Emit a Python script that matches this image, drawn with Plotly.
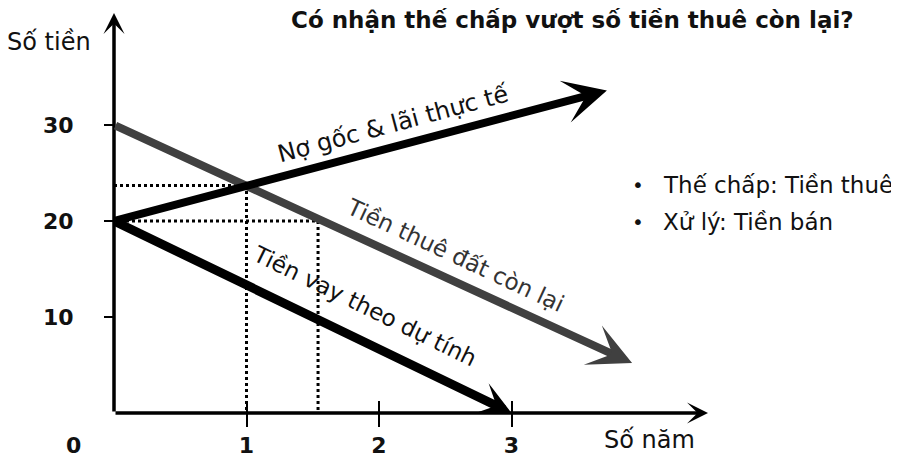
import plotly.graph_objects as go

# ---------------- data ----------------
x_ticks = [1, 2, 3]
x_tick_labels = ["1", "2", "3"]
y_ticks = [10, 20, 30]
y_tick_labels = ["10", "20", "30"]

# Tiền thuê đất còn lại (grey)
rent_x = [0, 3.91]
rent_y = [30, 5.2]
# Nợ gốc & lãi thực tế (black)
debt_x = [0, 3.72]
debt_y = [20, 33.6]
# Tiền vay theo dự tính (black, thick)
loan_x = [0, 3.0]
loan_y = [20, 0]
# reference points joined to the axes by dotted lines
cross_x = [1.0, 1.54]
cross_y = [23.7, 20.0]

X_MAX = 4.483
Y_MAX = 41.67

title_text = "Có nhận thế chấp vượt số tiền thuê còn lại?"
y_title = "Số tiền"
x_title = "Số năm"
bullets = ["Thế chấp: Tiền thuê", "Xử lý: Tiền bán"]

FONT = "DejaVu Sans"
TXT = "#111111"
GREY = "#404040"

# ---------------- layout geometry (pixels) ----------------
# the page body has an 8px margin, so the figure is drawn 8px smaller
OFF = 8
W, H = 899 - OFF, 458 - OFF
L, R, T, B = 114 - OFF, 191, 13 - OFF, 45
PW, PH = W - L - R, H - T - B


def fx(px):
    return (px - OFF - L) / PW


def fy(py):
    return (H - B - (py - OFF)) / PH


fig = go.Figure()

# dotted guide lines
for cx, cy in zip(cross_x, cross_y):
    fig.add_trace(go.Scatter(
        x=[0, cx, cx], y=[cy, cy, 0], mode="lines",
        line=dict(color="black", width=3, dash="dot"),
        hoverinfo="skip", showlegend=False))


def arrow(xs, ys, color, width, size):
    return dict(x=xs[-1], y=ys[-1], ax=xs[0], ay=ys[0],
                xref="x", yref="y", axref="x", ayref="y",
                text="", showarrow=True, arrowhead=3,
                arrowsize=size, arrowwidth=width, arrowcolor=color)


annotations = [
    arrow([0, X_MAX], [0, 0], "black", 3.5, 1.0),
    arrow([0, 0], [0, Y_MAX], "black", 3.5, 1.0),
    arrow(rent_x, rent_y, GREY, 8, 0.9),
    arrow(debt_x, debt_y, "black", 8, 0.9),
    arrow(loan_x, loan_y, "black", 9, 0.62),
]


def text(px, py, s, size, bold=False, angle=0, color=TXT, xanchor="center"):
    return dict(x=fx(px), y=fy(py), xref="paper", yref="paper", text=s,
                showarrow=False, textangle=angle, xanchor=xanchor, yanchor="middle",
                font=dict(family=FONT, size=size, color=color,
                          weight="bold" if bold else "normal"))


annotations += [
    text(572, 20, title_text, 23, bold=True),
    text(49, 42, y_title, 24),
    text(73, 445, "0", 22, bold=True),
    text(649, 440, x_title, 24),
    text(638, 185, "•", 20),
    text(661, 185, bullets[0], 23, xanchor="left"),
    text(638, 222, "•", 20),
    text(661, 222, bullets[1], 23, xanchor="left"),
    text(393, 124, "Nợ gốc & lãi thực tế", 24, angle=-15),
    text(455, 255, "Tiền thuê đất còn lại", 23, angle=25, color="#333333"),
    text(365, 306, "Tiền vay theo dự tính", 23, angle=26),
]

tick_font = dict(family=FONT, size=22, color=TXT, weight="bold")

fig.update_layout(
    width=W, height=H,
    margin=dict(l=L, r=R, t=T, b=B, autoexpand=False),
    paper_bgcolor="white", plot_bgcolor="white",
    showlegend=False,
    annotations=annotations,
    xaxis=dict(range=[0, X_MAX], showgrid=False, zeroline=False, showline=False,
               tickmode="array", tickvals=x_ticks, ticktext=x_tick_labels,
               ticks="outside", ticklen=13, tickwidth=1.5, tickcolor="black",
               tickfont=tick_font, ticklabelstandoff=0,
               minor=dict(tickmode="array", tickvals=x_ticks, ticks="inside",
                          ticklen=12, tickwidth=1.5, tickcolor="black"),
               fixedrange=True),
    yaxis=dict(range=[0, Y_MAX], showgrid=False, zeroline=False, showline=False,
               tickmode="array", tickvals=y_ticks, ticktext=y_tick_labels,
               ticks="outside", ticklen=9, tickwidth=1.5, tickcolor="black",
               tickfont=tick_font, ticklabelstandoff=26,
               fixedrange=True),
)

fig.write_html("out.html")
